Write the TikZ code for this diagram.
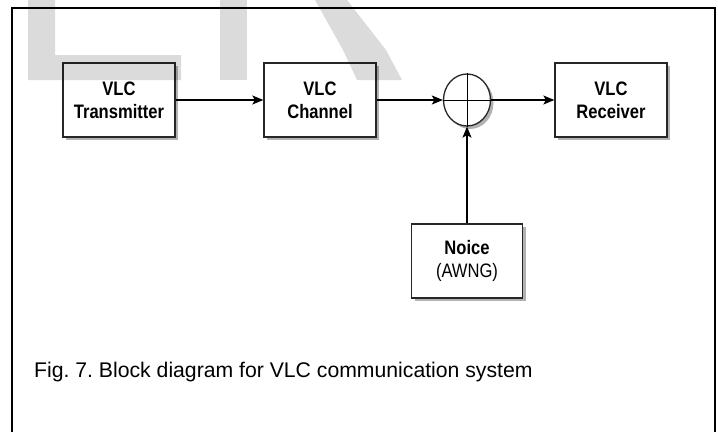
\documentclass[tikz,border=0pt]{standalone}
\usepackage{fontspec}
\setmainfont{Liberation Sans}
\newfontfamily\blockfont[FakeStretch=0.85]{Liberation Sans}
\usetikzlibrary{shapes.geometric,shadows,arrows.meta}
\frenchspacing
\begin{document}
\begin{tikzpicture}[
  x=1pt, y=-1pt,
  block node/.style={draw=black!85, line width=1.3pt, fill=white, minimum width=112pt, minimum height=74pt,
    inner sep=0pt, align=center, font=\blockfont\fontsize{19.5}{23}\selectfont,
    drop shadow={shadow xshift=3pt, shadow yshift=-3pt, fill=black, opacity=0.3}},
  sum node/.style={draw=black!85, line width=1.3pt, fill=white, ellipse, minimum width=47pt, minimum height=52pt,
    inner sep=0pt, drop shadow={shadow xshift=3pt, shadow yshift=-3pt, fill=black, opacity=0.3}},
  arrow edge/.style={draw, ->, line width=1.3pt, >={Stealth[length=11pt, width=9pt, inset=2.5pt]}},
  mark shape/.style={fill=black, opacity=0.14, draw=none}
]
\useasboundingbox (0,0) rectangle (718,432);
% Frame
\draw[line width=2pt] (12,432) |- (715,8) -- (715,432);
% Define the nodes
\node[block node] (tx) at (119,100) {\bfseries VLC\\\bfseries Transmitter};
\node[block node] (chan) at (320,100) {\bfseries VLC\\\bfseries Channel};
\node[sum node] (sum) at (467,100) {};
\draw[line width=1pt] (sum.north) -- (sum.south);
\draw[line width=1pt] (sum.west) -- (sum.east);
\node[block node] (rx) at (611,100) {\bfseries VLC\\\bfseries Receiver};
\node[block node, minimum width=111pt] (noise) at (467,261) {\bfseries Noice\\(AWNG)};
% Define the edges
\path[arrow edge] (tx) -- (chan);
\path[arrow edge] (chan) -- (sum);
\path[arrow edge] (sum) -- (rx);
\path[arrow edge] (noise) -- (sum);
% Caption
\node[anchor=base west, inner sep=0pt, font=\fontsize{21.2}{26}\selectfont] (cap) at (34,377)
  {Fig. 7. Block diagram for VLC communication system};
% Watermark letters
\fill[mark shape] (28,0) -- (55,0) -- (55,55) -- (181,55) -- (181,80) -- (28,80) -- cycle;
\fill[mark shape] (220,0) rectangle (247,80);
\fill[mark shape] (315,0) -- (343,50) -- (357,80) -- (402,80) -- (386,50) -- (347,0) -- cycle;
\end{tikzpicture}
\end{document}
